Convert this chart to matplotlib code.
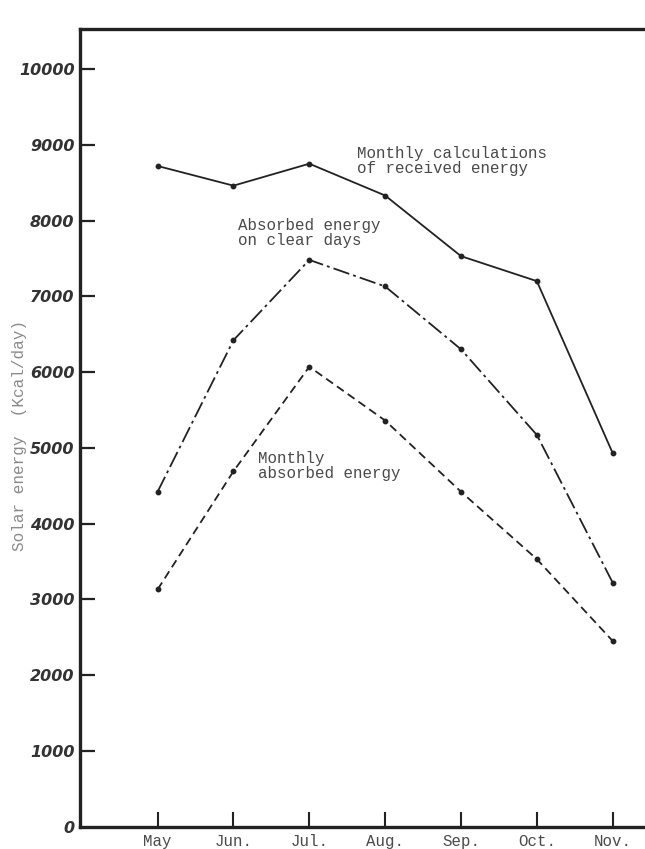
import matplotlib
matplotlib.use('Agg')
import matplotlib.pyplot as plt

plt.rcParams['lines.scale_dashes'] = False

months = ['May', 'Jun.', 'Jul.', 'Aug.', 'Sep.', 'Oct.', 'Nov.']
received = [8720, 8460, 8750, 8330, 7530, 7200, 4930]      # monthly calculations of received energy
clear_days = [4420, 6420, 7480, 7130, 6300, 5170, 3220]    # absorbed energy on clear days
absorbed = [3130, 4690, 6070, 5360, 4420, 3530, 2450]      # monthly absorbed energy
yticks = [0, 1000, 2000, 3000, 4000, 5000, 6000, 7000, 8000, 9000, 10000]

mono = 'Liberation Mono'
ink = '#222222'
type_col = '#4a4a4a'

fig = plt.figure(figsize=(6.45, 8.49), dpi=100)
ax = fig.add_axes([80 / 645, 22.4 / 849, 1 - 80 / 645, 797.6 / 849])

x = list(range(len(months)))
ax.plot(x, received, color=ink, lw=1.3, marker='o', ms=3.2)
ax.plot(x, clear_days, color=ink, lw=1.3, marker='o', ms=3.2, dashes=[12, 3, 2, 3])
ax.plot(x, absorbed, color=ink, lw=1.3, marker='o', ms=3.2, dashes=[6, 3.5])

ax.set_xlim(-1.023, 6.426)
ax.set_ylim(0, 10528)

ax.spines['right'].set_visible(False)
for s in ['left', 'top', 'bottom']:
    ax.spines[s].set_linewidth(2.4)
    ax.spines[s].set_color(ink)

ax.set_xticks(x)
ax.set_xticklabels(months, fontfamily=mono, fontsize=11.3, color=type_col)
ax.tick_params(axis='x', direction='in', length=11, width=1.5, color=ink, pad=5)

ax.set_yticks(yticks)
ax.set_yticklabels([str(v) for v in yticks], fontfamily='DejaVu Sans', fontstyle='italic',
                   fontweight='bold', fontsize=11.5, color='#333333')
ax.tick_params(axis='y', direction='in', length=11, width=1.6, color=ink, pad=4)
ax.yaxis.get_major_ticks()[0].tick1line.set_visible(False)

ax.set_ylabel('Solar energy  (Kcal/day)', fontfamily=mono, fontsize=11.5, color='#8a8a8a')
ax.yaxis.set_label_coords(-0.094, 0.49)

# curve labels
ax.annotate('Monthly calculations\nof received energy', xy=(2.63, 8590), fontfamily=mono,
            fontsize=11.4, color=type_col, linespacing=1.0, va='bottom')
ax.annotate('Absorbed energy\non clear days', xy=(1.06, 7640), fontfamily=mono,
            fontsize=11.4, color=type_col, linespacing=1.0, va='bottom')
ax.annotate('Monthly\nabsorbed energy', xy=(1.32, 4560), fontfamily=mono,
            fontsize=11.4, color=type_col, linespacing=1.0, va='bottom')

fig.savefig('out.png', dpi=100, facecolor='white')
